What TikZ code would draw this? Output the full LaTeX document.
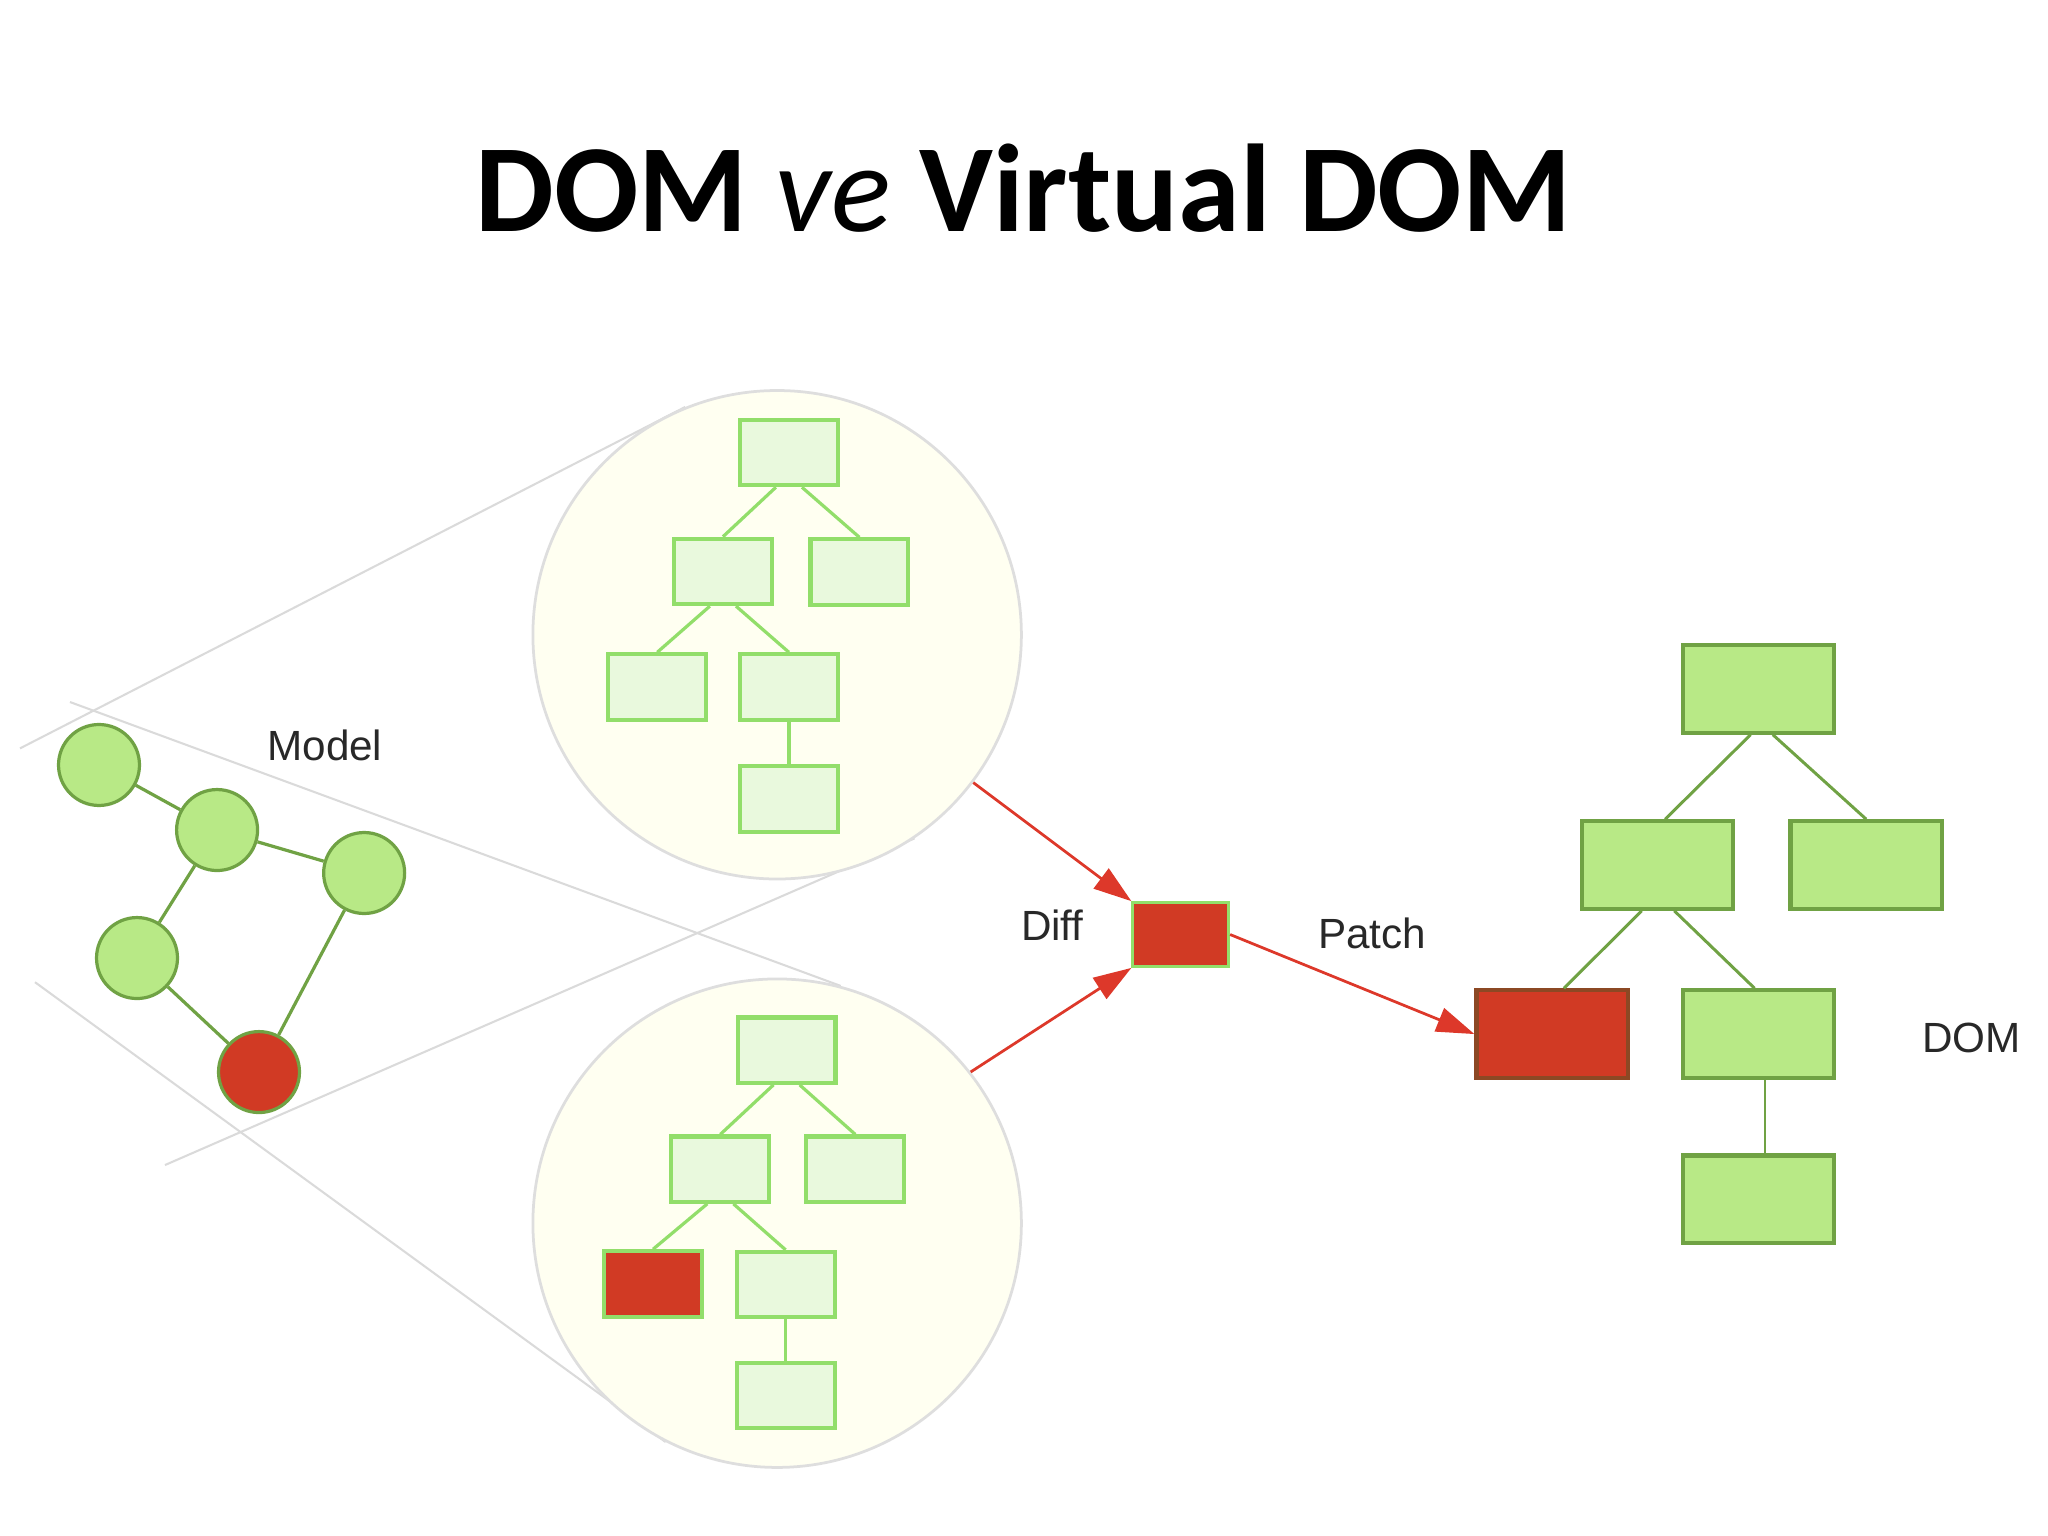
\documentclass[tikz,border=0pt]{standalone}
\usepackage{fontspec}
\setmainfont{Carlito}
\newfontfamily\labelfont{Liberation Sans}
\usetikzlibrary{arrows.meta,positioning,backgrounds}

\definecolor{leafgreen}{RGB}{184,233,134}
\definecolor{leafedge}{RGB}{112,162,68}
\definecolor{palegreen}{RGB}{233,249,221}
\definecolor{paleedge}{RGB}{146,222,106}
\definecolor{patchred}{RGB}{209,58,36}
\definecolor{arrowred}{RGB}{221,56,42}
\definecolor{lensfill}{RGB}{255,255,241}
\definecolor{lensedge}{RGB}{222,222,222}
\definecolor{conegray}{RGB}{218,218,218}
\definecolor{inkgray}{RGB}{40,40,40}

\begin{document}
\begin{tikzpicture}[
    modelnode/.style={circle, draw=leafedge, fill=leafgreen, line width=0.7pt, minimum size=0.62cm, inner sep=0pt},
    modelred/.style={modelnode, fill=patchred},
    lens/.style={circle, draw=lensedge, fill=lensfill, line width=0.6pt, minimum size=3.74cm, inner sep=0pt},
    vbox/.style={rectangle, draw=paleedge, fill=palegreen, line width=0.9pt, minimum width=0.75cm, minimum height=0.5cm, inner sep=0pt},
    vred/.style={vbox, fill=patchred},
    dombox/.style={rectangle, draw=leafedge, fill=leafgreen, line width=0.9pt, minimum width=1.16cm, minimum height=0.67cm, inner sep=0pt},
    domred/.style={dombox, fill=patchred, draw={rgb,255:red,140;green,72;blue,36}},
    diffbox/.style={rectangle, draw=paleedge, fill=patchred, line width=0.6pt, minimum width=0.735cm, minimum height=0.49cm, inner sep=0pt},
    modellink/.style={draw=leafedge, line width=0.7pt},
    vlink/.style={draw=paleedge, line width=0.7pt},
    domlink/.style={draw=leafedge, line width=0.65pt},
    cone/.style={draw=conegray, line width=0.45pt},
    notetext/.style={font=\labelfont\fontsize{9.2}{11}\selectfont, text=inkgray, inner sep=0pt},
    arrow/.style={-{Triangle[length=2.9mm,width=1.9mm]}, arrowred, line width=0.6pt}
]
    \useasboundingbox (0,0) rectangle (15.68,-11.76);

    % Title
    \node[anchor=base, font=\fontsize{27.2}{32}\selectfont\bfseries] (title) at (7.835,-1.775) {DOM {\mdseries\itshape ve} Virtual DOM};

    % Model
    \node[modelnode] (m1) at (0.758,-5.857) {};
    \node[modelnode] (m2) at (1.662,-6.355) {};
    \node[modelnode] (m3) at (2.788,-6.684) {};
    \node[modelnode] (m4) at (1.049,-7.335) {};
    \node[modelred] (m5) at (1.983,-8.208) {};
    \node[notetext, anchor=base west] (modeltag) at (2.04,-5.82) {Model};
    \draw[modellink] (m1) -- (m2) (m2) -- (m3) (m2) -- (m4) (m4) -- (m5) (m3) -- (m5);

    % Virtual DOM lenses
    \node[lens] (vtop) at (5.95,-4.86) {};
    \node[lens] (vbot) at (5.95,-9.365) {};

    \node[vbox] (t1) at (6.04,-3.465) {};
    \node[vbox] (t2) at (5.535,-4.375) {};
    \node[vbox] (t3) at (6.58,-4.38) {};
    \node[vbox] (t4) at (5.032,-5.26) {};
    \node[vbox] (t5) at (6.04,-5.26) {};
    \node[vbox] (t6) at (6.04,-6.118) {};
    \draw[vlink] ([xshift=-1mm]t1.south) -- (t2.north);
    \draw[vlink] ([xshift=1mm]t1.south) -- (t3.north);
    \draw[vlink] ([xshift=-1mm]t2.south) -- (t4.north);
    \draw[vlink] ([xshift=1mm]t2.south) -- (t5.north);
    \draw[vlink] (t5) -- (t6);

    \node[vbox] (b1) at (6.022,-8.04) {};
    \node[vbox] (b2) at (5.515,-8.951) {};
    \node[vbox] (b3) at (6.548,-8.951) {};
    \node[vred] (b4) at (5.0,-9.83) {};
    \node[vbox] (b5) at (6.015,-9.835) {};
    \node[vbox] (b6) at (6.015,-10.683) {};
    \draw[vlink] ([xshift=-1mm]b1.south) -- (b2.north);
    \draw[vlink] ([xshift=1mm]b1.south) -- (b3.north);
    \draw[vlink] ([xshift=-1mm]b2.south) -- (b4.north);
    \draw[vlink] ([xshift=1mm]b2.south) -- (b5.north);
    \draw[vlink] (b5) -- (b6);

    % Diff
    \node[diffbox] (diff) at (9.04,-7.155) {};
    \node[notetext, anchor=base west] (difftag) at (7.81,-7.197) {Diff};
    \node[notetext, anchor=base west] (patchtag) at (10.085,-7.26) {Patch};

    % DOM
    \node[dombox] (d1) at (13.463,-5.274) {};
    \node[dombox] (d2) at (12.689,-6.623) {};
    \node[dombox] (d3) at (14.288,-6.623) {};
    \node[domred] (d4) at (11.884,-7.917) {};
    \node[dombox] (d5) at (13.463,-7.917) {};
    \node[dombox] (d6) at (13.463,-9.182) {};
    \node[notetext, anchor=base west] (domtag) at (14.71,-8.06) {DOM};
    \draw[domlink] ([xshift=-0.6mm]d1.south) -- ([xshift=0.6mm]d2.north);
    \draw[domlink] ([xshift=1.1mm]d1.south) -- (d3.north);
    \draw[domlink] ([xshift=-1.2mm]d2.south) -- ([xshift=0.9mm]d4.north);
    \draw[domlink] ([xshift=1.3mm]d2.south) -- ([xshift=-0.3mm]d5.north);
    \draw[domlink] ([xshift=0.5mm]d5.south) -- ([xshift=0.5mm]d6.north);

    % Arrows
    \draw[arrow] (vtop.-37) -- (diff.north west);
    \draw[arrow] (vbot.38) -- (diff.south west);
    \draw[arrow] (diff.east) -- (d4.west);

    % Cone lines
    \coordinate (c1a) at (0.153,-5.73);
    \coordinate (c2a) at (1.263,-8.92);
    \coordinate (c3a) at (0.536,-5.375);
    \coordinate (c4a) at (0.268,-7.52);
    \begin{scope}[on background layer]
        \draw[cone] (c1a) -- (vtop.112);
        \draw[cone] (c2a) -- (vtop.-56);
        \draw[cone] (c3a) -- (vbot.75);
        \draw[cone] (c4a) -- (vbot.-117);
    \end{scope}
\end{tikzpicture}
\end{document}
